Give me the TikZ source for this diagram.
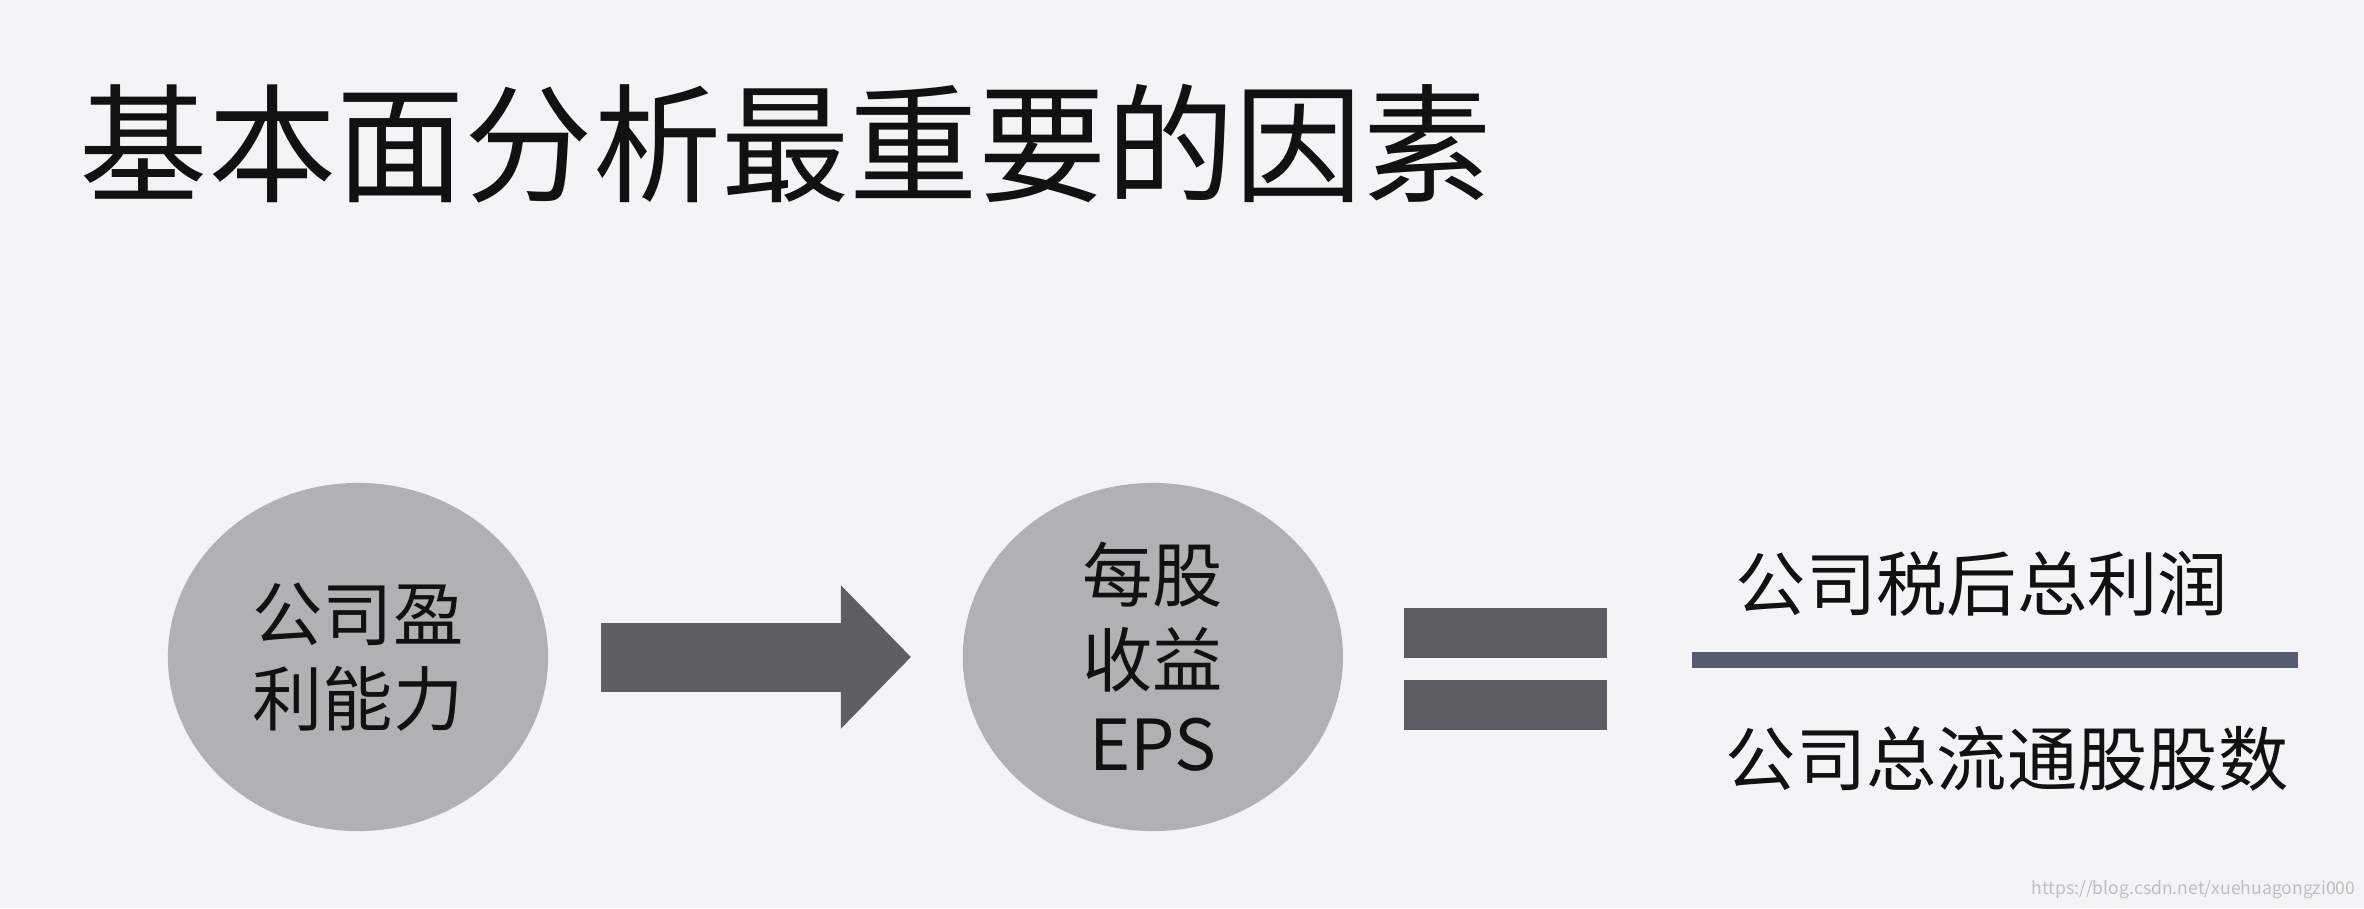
\documentclass[tikz,border=0pt]{standalone}
\usepackage{fontspec}
\setmainfont{Noto Sans CJK SC}
\usetikzlibrary{arrows.meta,positioning,shapes.geometric}
\definecolor{bgcol}{HTML}{F3F4F6}
\definecolor{ballcol}{HTML}{B1B1B3}
\definecolor{arrowcol}{HTML}{5E5F62}
\definecolor{eqcol}{HTML}{5C5D62}
\definecolor{barcol}{HTML}{555A6E}
\definecolor{inkcol}{HTML}{111111}

\begin{document}
\begin{tikzpicture}[x=0.01cm,y=-0.01cm,
    ball/.style={ellipse,fill=ballcol,minimum width=3.8cm,minimum height=3.48cm,inner sep=0pt,align=center,text=inkcol,font=\fontsize{20pt}{24pt}\selectfont},
    eqbar/.style={fill=eqcol,minimum width=2.03cm,minimum height=0.5cm,inner sep=0pt},
    frac/.style={text=inkcol,inner sep=0pt,font=\fontsize{20pt}{24pt}\selectfont}]
    \fill[bgcol] (0,0) rectangle (2364,908);
    \useasboundingbox (0,0) rectangle (2364,908);
    \node[anchor=west,inner sep=0pt,text=inkcol,font=\fontsize{36.5pt}{40pt}\selectfont] (title) at (79,144) {基本面分析最重要的因素};
    \node[ball] (profit) at (358,657) {公司盈\\利能力};
    \node[ball,right=4.13cm of profit] (eps) {每股\\收益\\EPS};
    \draw[arrowcol,line width=0.69cm,shorten <=0.52cm,shorten >=0.51cm,-{Triangle[length=0.7cm,width=1.39cm]}] (profit) -- (eps);
    \node[eqbar] (eqtop) at (1505.5,633) {};
    \node[eqbar,below=0.21cm of eqtop] (eqbot) {};
    \node[fill=barcol,minimum width=6.06cm,minimum height=0.16cm,inner sep=0pt] (fracbar) at (1995,660) {};
    \node[frac] (num) at (1982,584) {公司税后总利润};
    \node[frac] (den) at (2007,759) {公司总流通股股数};
    \node[anchor=east,inner sep=0pt,text=black!25,font=\fontsize{5pt}{6pt}\selectfont] (mark) at (2356,890) {https://blog.csdn.net/xuehuagongzi000};
\end{tikzpicture}
\end{document}
